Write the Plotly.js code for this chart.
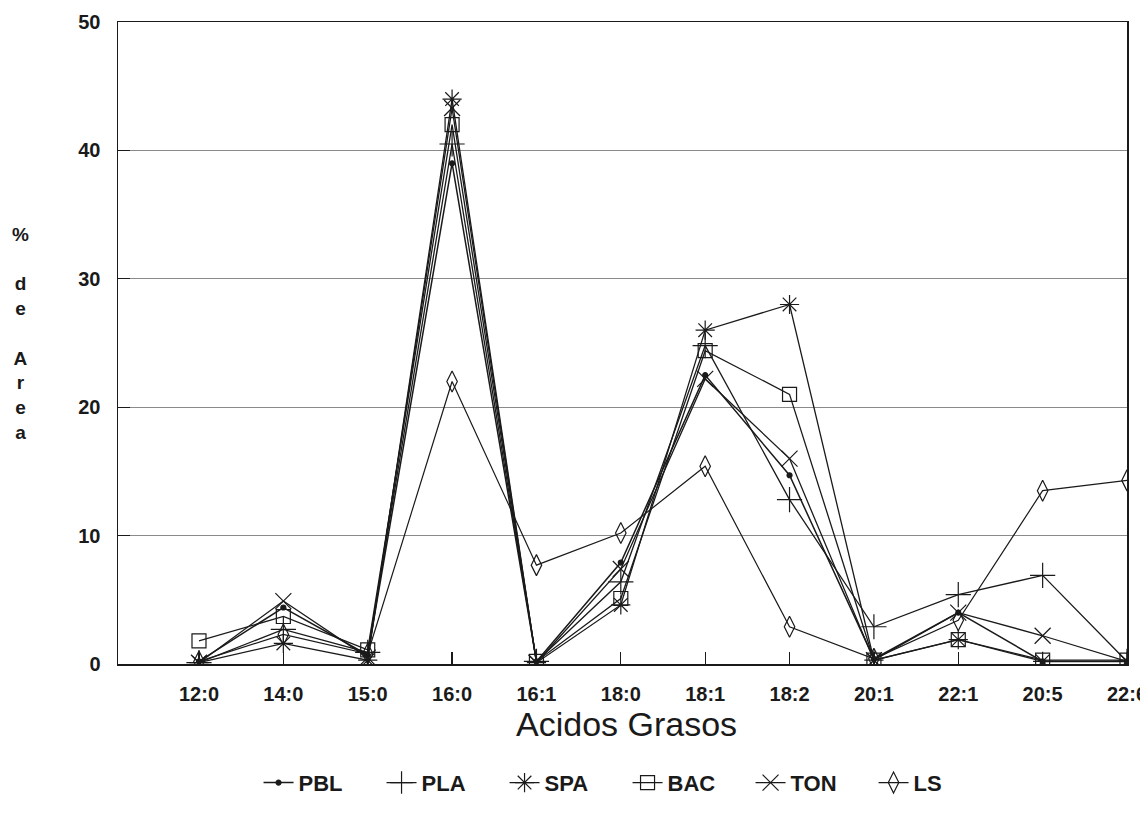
<!DOCTYPE html>
<html>
<head>
<meta charset="utf-8">
<script src="https://cdn.plot.ly/plotly-3.0.1.min.js"></script>
<style>html,body{margin:0;padding:0;background:#fff;}#chart{width:1140px;height:818px;}</style>
</head>
<body>
<div id="chart"></div>
<script>
const categories = ["12:0","14:0","15:0","16:0","16:1","18:0","18:1","18:2","20:1","22:1","20:5","22:6"];
const PBL = [0.2, 4.4, 0.7, 39.0, 0.2, 7.9, 22.5, 14.7, 0.4, 4.0, 0.2, 0.2];
const PLA = [0.1, 2.7, 0.9, 40.5, 0.2, 6.4, 24.8, 12.8, 2.9, 5.4, 6.9, 0.2];
const SPA = [0.1, 1.6, 0.3, 44.0, 0.1, 4.6, 26.0, 28.0, 0.3, 1.9, 0.2, 0.2];
const BAC = [1.8, 3.7, 1.1, 42.0, 0.2, 5.1, 24.4, 21.0, 0.3, 1.9, 0.3, 0.3];
const TON = [0.1, 4.9, 0.5, 43.3, 0.1, 7.4, 22.2, 16.0, 0.3, 4.0, 2.2, 0.2];
const LS  = [0.2, 2.3, 0.8, 22.0, 7.7, 10.2, 15.4, 2.9, 0.4, 3.4, 13.5, 14.3];
const yTicks = [0, 10, 20, 30, 40, 50];
const yTitleLines = ["%", " ", "d", "e", " ", "A", "r", "e", "a"];
const xTitle = "Acidos Grasos";

const ink = "#1a1a1a";
const FONT = "Liberation Sans, Arial, sans-serif";

function series(name, values, symbol, size, width) {
  return {
    type: "scatter", mode: "lines+markers", name: name,
    x: categories.map((c, i) => i), y: values,
    line: {color: ink, width: width},
    marker: {symbol: symbol, size: size, color: ink, line: {color: ink, width: 1.2}}
  };
}

const data = [
  series("PBL", PBL, "circle", 5, 1.5),
  series("PLA", PLA, "cross-thin-open", 18, 1.3),
  series("SPA", SPA, "asterisk-open", 16, 1.3),
  series("BAC", BAC, "square-open", 14, 1.3),
  series("TON", TON, "x-thin-open", 16, 1.3),
  series("LS", LS, "diamond-tall-open", 15, 1.2)
];

const layout = {
  width: 1140, height: 818,
  margin: {l: 118, r: 13, t: 22, b: 154},
  paper_bgcolor: "#fff", plot_bgcolor: "#fff",
  showlegend: true,
  legend: {
    orientation: "h", x: 0.505, xanchor: "center", y: -0.185, yanchor: "middle",
    font: {family: FONT, size: 22, color: ink, weight: "bold"},
    itemwidth: 30, entrywidth: 78, entrywidthmode: "pixels", traceorder: "normal"
  },
  xaxis: {
    range: [-0.96, 11],
    tickmode: "array", tickvals: categories.map((c, i) => i), ticktext: categories,
    ticks: "inside", ticklen: 12, tickwidth: 1.2, tickcolor: ink,
    showline: true, linecolor: ink, linewidth: 1.5, mirror: true,
    showgrid: false, zeroline: false,
    tickfont: {family: FONT, size: 20, color: ink, weight: "bold"},
    ticklabelstandoff: 11, ticklabeloverflow: "allow"
  },
  yaxis: {
    range: [0, 50],
    tickmode: "array", tickvals: yTicks, ticktext: yTicks.map(String),
    ticks: "inside", ticklen: 12, tickwidth: 1.2, tickcolor: ink,
    showline: true, linecolor: ink, linewidth: 1.5, mirror: true,
    showgrid: true, gridcolor: "#8a8a8a", gridwidth: 1, zeroline: false,
    tickfont: {family: FONT, size: 20, color: ink, weight: "bold"},
    ticklabelstandoff: 12
  },
  annotations: [{
    text: yTitleLines.join("<br>"), xref: "paper", yref: "paper",
    x: (20 - 118) / 1009, y: (664 - 333) / 642,
    xanchor: "center", yanchor: "middle", showarrow: false, align: "center",
    font: {family: FONT, size: 19, color: ink, weight: "bold"}
  }, {
    text: xTitle, xref: "paper", yref: "paper",
    x: (626 - 118) / 1009, y: (664 - 704) / 642,
    xanchor: "center", yanchor: "top", showarrow: false, borderpad: 0,
    font: {family: FONT, size: 34, color: ink}
  }]
};

Plotly.newPlot("chart", data, layout, {displayModeBar: false, staticPlot: true});
</script>
</body>
</html>
